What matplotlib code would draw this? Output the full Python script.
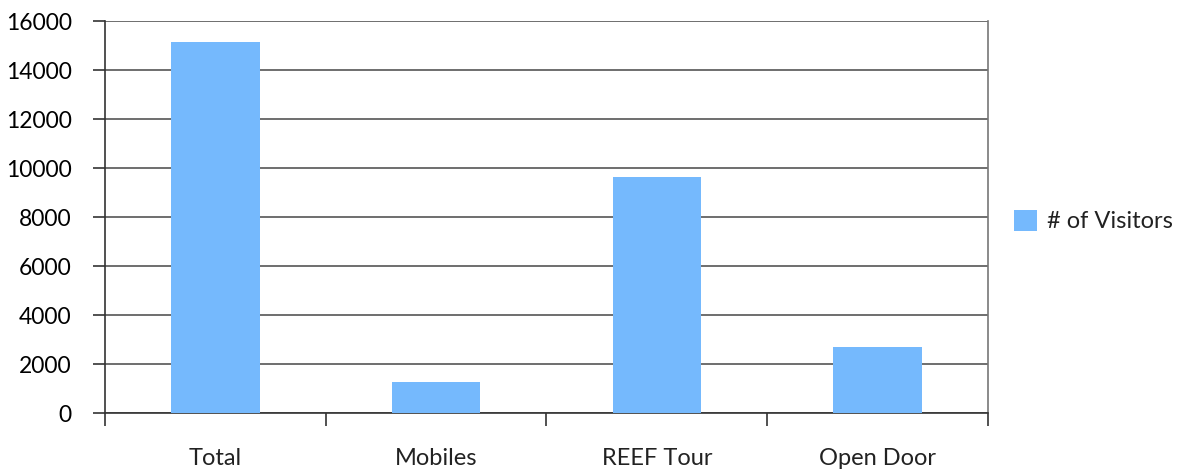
import matplotlib
matplotlib.use("Agg")
import matplotlib.pyplot as plt
import numpy as np

plt.rcParams['font.family'] = ['Lato', 'DejaVu Sans']

categories = ['Total', 'Mobiles', 'REEF Tour', 'Open Door']
visitors = [15150, 1270, 9650, 2700]
series_name = '# of Visitors'
yticks = np.arange(0, 16001, 2000)

fig = plt.figure(figsize=(11.88, 4.69), dpi=100)
ax = fig.add_axes([0.0884, 0.1194, 0.7432, 0.8358])

x = np.arange(len(categories))
ax.bar(x, visitors, width=0.4, color='#75b9fd', label=series_name, zorder=3)

ax.set_xlim(-0.5, len(categories) - 0.5)
ax.set_ylim(0, 16000)
ax.set_yticks(yticks)
ax.set_yticklabels([str(v) for v in yticks], fontsize=16.5)
ax.yaxis.grid(True, color='#555555', linewidth=1.2, zorder=0)

# category labels centred, tick marks on the category boundaries
ax.set_xticks(x)
ax.set_xticklabels(categories, fontsize=17, color='#222222')
ax.tick_params(axis='x', length=0, pad=25)
ax.set_xticks(np.arange(-0.5, len(categories)), minor=True)
ax.tick_params(axis='x', which='minor', length=9, width=1.2, color='#333333')
ax.tick_params(axis='y', length=9, width=1.2, color='#333333', pad=15)

for side in ['left', 'bottom', 'right']:
    ax.spines[side].set_color('#333333')
    ax.spines[side].set_linewidth(1.2)
ax.spines['right'].set_color('#777777')
ax.spines['top'].set_visible(False)

leg = ax.legend(loc='center left', bbox_to_anchor=(1.005, 0.49), frameon=False,
                fontsize=17, handlelength=1.0, handleheight=1.0, handletextpad=0.4)
for t in leg.get_texts():
    t.set_color('#222222')

fig.savefig('out.png', dpi=100)
